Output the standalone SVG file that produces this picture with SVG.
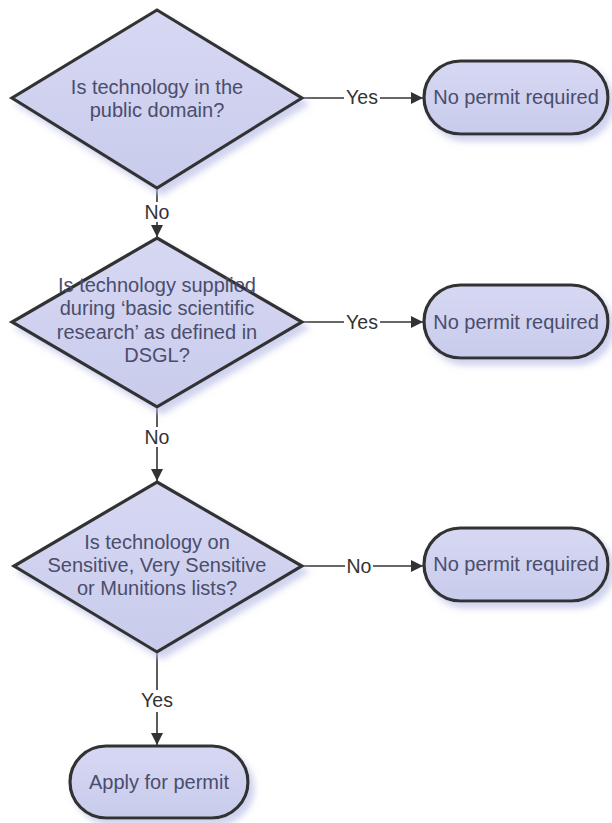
<svg xmlns="http://www.w3.org/2000/svg" width="612" height="823" viewBox="0 0 612 823">
<defs>
<filter id="sh" x="-10%" y="-10%" width="130%" height="130%">
<feGaussianBlur in="SourceAlpha" stdDeviation="3"/>
<feOffset dx="5" dy="6" result="b"/>
<feFlood flood-color="#c4c8ea" flood-opacity="0.8"/>
<feComposite in2="b" operator="in"/>
<feMerge><feMergeNode/><feMergeNode in="SourceGraphic"/></feMerge>
</filter>
<linearGradient id="g" x1="0" y1="0" x2="0" y2="1">
<stop offset="0" stop-color="#d6d8f3"/>
<stop offset="1" stop-color="#c9cbec"/>
</linearGradient>
<marker id="ah" viewBox="0 0 12 12" refX="12" refY="6" markerWidth="12" markerHeight="12" markerUnits="userSpaceOnUse" orient="auto">
<path d="M0,0 L12,6 L0,12 z" fill="#333"/>
</marker>
</defs>
<style>
.shape{fill:url(#g);stroke:#333;stroke-width:3.2;filter:url(#sh)}
.t{font-family:"Liberation Sans",Arial,sans-serif;font-size:20px;fill:#4a4d6c;text-anchor:middle}
.lbl{font-family:"Liberation Sans",Arial,sans-serif;font-size:19.5px;fill:#333;text-anchor:middle}
.c{stroke:#333;stroke-width:1.6;fill:none;marker-end:url(#ah)}
</style>
<rect width="612" height="823" fill="#fff"/>
<g id="connectors">
<path class="c" d="M157,188 V237"/>
<path class="c" d="M157,408 V481"/>
<path class="c" d="M157,653 V745"/>
<path class="c" d="M302,98 H423"/>
<path class="c" d="M302,322 H423"/>
<path class="c" d="M302,566 H423"/>
<rect x="142" y="202" width="30" height="20" fill="#fff"/>
<text class="lbl" x="157" y="219">No</text>
<rect x="142" y="427" width="30" height="20" fill="#fff"/>
<text class="lbl" x="157" y="444">No</text>
<rect x="139" y="690" width="36" height="22" fill="#fff"/>
<text class="lbl" x="157" y="707">Yes</text>
<rect x="344" y="88" width="36" height="20" fill="#fff"/>
<text class="lbl" x="362" y="104">Yes</text>
<rect x="344" y="312" width="36" height="20" fill="#fff"/>
<text class="lbl" x="362" y="329">Yes</text>
<rect x="345" y="556" width="28" height="20" fill="#fff"/>
<text class="lbl" x="359" y="573">No</text>
</g>
<g id="d1">
<polygon class="shape" points="157,10 302,98 157,188 12,98"/>
<text class="t" x="157" y="94">Is technology in the</text>
<text class="t" x="157" y="117">public domain?</text>
</g>
<g id="t1">
<rect class="shape" x="424" y="61" width="184" height="73" rx="36.5"/>
<text class="t" x="516" y="104">No permit required</text>
</g>
<g id="d2">
<polygon class="shape" points="157,238 302,322 157,407 12,322"/>
<text class="t" x="157" y="292">Is technology supplied</text>
<text class="t" x="157" y="315">during ‘basic scientific</text>
<text class="t" x="157" y="339">research’ as defined in</text>
<text class="t" x="157" y="362">DSGL?</text>
</g>
<g id="t2">
<rect class="shape" x="424" y="285" width="184" height="73" rx="36.5"/>
<text class="t" x="516" y="329">No permit required</text>
</g>
<g id="d3">
<polygon class="shape" points="157,482 302,566 157,652 14,566"/>
<text class="t" x="157" y="549">Is technology on</text>
<text class="t" x="157" y="572">Sensitive, Very Sensitive</text>
<text class="t" x="157" y="595">or Munitions lists?</text>
</g>
<g id="t3">
<rect class="shape" x="424" y="528" width="184" height="73" rx="36.5"/>
<text class="t" x="516" y="571">No permit required</text>
</g>
<g id="t4">
<rect class="shape" x="70" y="746" width="178" height="72" rx="36"/>
<text class="t" x="159" y="789">Apply for permit</text>
</g>
</svg>
